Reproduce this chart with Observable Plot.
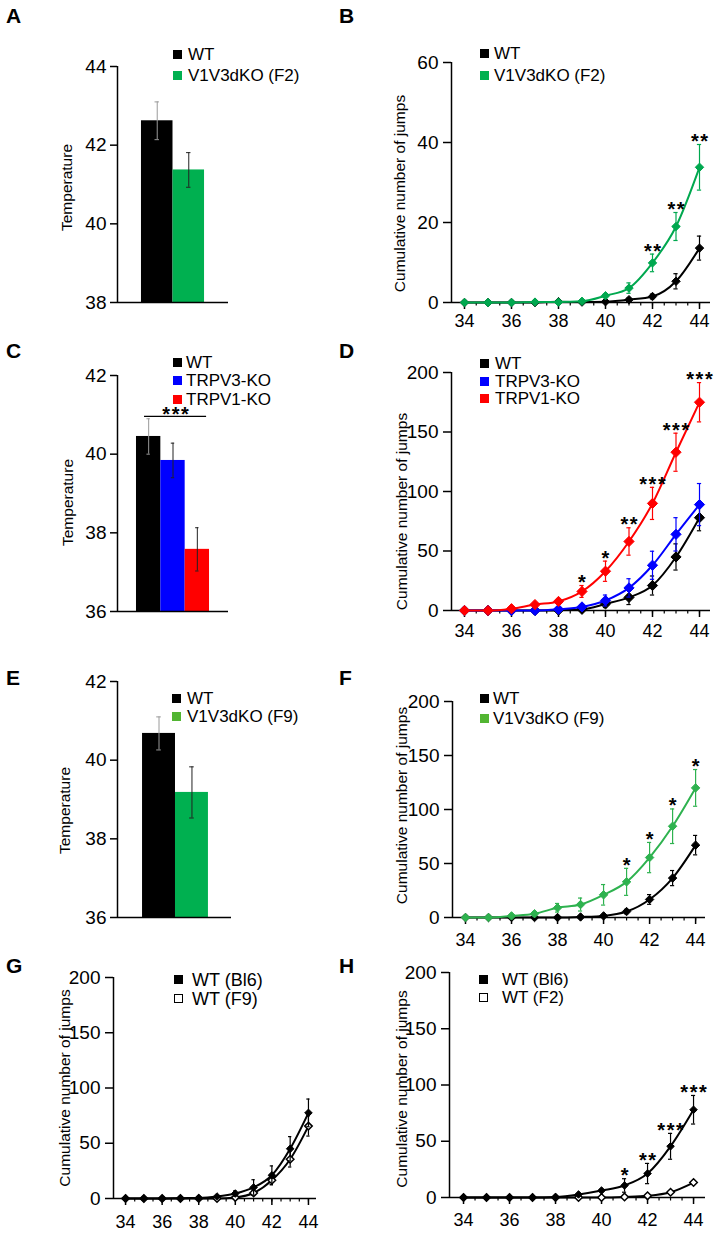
<!DOCTYPE html>
<html><head><meta charset="utf-8">
<script src="https://cdn.jsdelivr.net/npm/d3@7"></script>
<script src="https://cdn.jsdelivr.net/npm/@observablehq/plot@0.6"></script>
<style>
body{margin:0;background:#fff;}
#fig{position:relative;width:717px;height:1233px;font-family:"Liberation Sans",Arial,Helvetica,sans-serif;overflow:hidden;background:#fff;color:#000}
.letter{position:absolute;font-weight:bold;font-size:21px;line-height:21px}
.legend{position:absolute;line-height:1}
.legend .row{display:flex;align-items:center;white-space:nowrap}
.legend .sw{box-sizing:border-box;flex:none}
</style></head><body><div id="fig"></div>
<script>
// ---------- DATA ----------
const temps = [34,35,36,37,38,39,40,41,42,43,44];

// A
const aGroups = ["WT", "V1V3dKO (F2)"];
const aMeans = [42.62, 41.37];
const aErrs = [0.48, 0.44];
// B
const bWT = [0,0,0,0,0.2,0.1,0.2,0.7,1.5,5.3,13.6];
const bWTErr = [0,0,0,0,0,0,0,0.4,0.6,1.9,3.0];
const bKO = [0,0,0,0.1,0.1,0.3,1.7,3.6,9.9,19.0,33.8];
const bKOErr = [0,0,0,0,0,0,0.4,1.3,2.2,3.5,5.7];
const bStars = ["","","","","","","","","**","**","**"];
// C
const cGroups = ["WT", "TRPV3-KO", "TRPV1-KO"];
const cMeans = [40.45, 39.84, 37.58];
const cErrs = [0.45, 0.44, 0.55];
const cSig = [{from: 0, to: 2, level: 40.96, label: "***"}];
// D
const dWT = [0,0,0,0,0.3,1,5.5,11,21,45,78];
const dWTErr = [0,0,0,0,0,0,3,6,8,11,11];
const dV3 = [0,0,0,0,1,3,8.4,19,38,64,89];
const dV3Err = [0,0,0,0,0,1.5,4.6,7.7,11.8,14,17.7];
const dV1 = [0,0,1.5,5,7.6,16,33,58,90,133,175];
const dV1Err = [0,0,0,1,1.5,5,8.5,11.5,13.5,16,16.5];
const dStars = ["","","","","","*","*","**","***","***","***"];
// E
const eGroups = ["WT", "V1V3dKO (F9)"];
const eMeans = [40.68, 39.18];
const eErrs = [0.42, 0.65];
// F
const fWT = [0,0,0,0,0,0.5,1.5,5.5,16.7,36.5,67];
const fWTErr = [0,0,0,0,0,0,0,2,4.5,7,9];
const fKO = [0,0,1.5,3.5,9,12,21,33,55.5,84.5,120];
const fKOErr = [0,0,1,2,4,6,9.5,12.5,14,16,17];
const fStars = ["","","","","","","","*","*","*","*"];
// G
const gBl6 = [0,0,0,0.3,0.5,1.8,4.5,10,21,45,77.5];
const gBl6Err = [0,0,0,0,0,0,2.5,7,8.5,11,12.5];
const gF9 = [0,0,0,0,0,0,1,5,16.5,35.5,65.5];
const gF9Err = [0,0,0,0,0,0,0,2,4,7,9];
// H
const hBl6 = [0,0,0,0,0.5,2.7,6.2,10.7,21.3,45.5,78];
const hBl6Err = [0,0,0,0,0,0,1,6,9,11.5,12.7];
const hF2 = [0,0,0,0,0,0,0,0.5,1.5,4.7,13.3];
const hF2Err = [0,0,0,0,0,0,0,0,0.5,1,1.5];
const hStars = ["","","","","","","","*","**","***","***"];

const tempTicks = [38,40,42,44];
const yTicksC = [36,38,40,42];
const jumpTicksB = [0,20,40,60];
const jumpTicks = [0,50,100,150,200];
const xMajor = [34,36,38,40,42,44];
const xMinor = d3.range(34, 44.01, 0.5);
const labelTemp = "Temperature";
const labelJumps = "Cumulative number of jumps";

// ---------- STYLE ----------
const FONT = '"Liberation Sans", Arial, Helvetica, sans-serif';
const BLACK = "#000000", GREEN = "#00b050", GREENL = "#00a84f", GREENF = "#2eb24f", GREENLEG = "#52b532";
const BLUE = "#0000ff", RED = "#ff0000";
const fmt = d3.format("d");
const starText = s => s.split("").join("\u200a");
const fig = document.getElementById("fig");

function place(el, left, top) {
  el.style.position = "absolute";
  el.style.left = left + "px";
  el.style.top = top + "px";
  fig.appendChild(el);
}

function letter(ch, left, top) {
  const d = document.createElement("div");
  d.className = "letter"; d.textContent = ch;
  place(d, left, top);
}

function legend(items, o) {
  const d = document.createElement("div");
  d.className = "legend";
  d.style.fontSize = o.font + "px";
  for (const it of items) {
    const r = document.createElement("div");
    r.className = "row"; r.style.height = o.rowH + "px";
    const s = document.createElement("span");
    s.className = "sw";
    s.style.width = o.sw + "px"; s.style.height = o.sw + "px";
    s.style.marginRight = o.gap + "px";
    if (it.open) { s.style.border = "1.3px solid #000"; s.style.background = "#fff"; }
    else s.style.background = it.color;
    const t = document.createElement("span"); t.textContent = it.name;
    r.append(s, t); d.append(r);
  }
  place(d, o.left, o.top);
}

function yLabel(p) {
  return Plot.text([p.label], {text: d => d, frameAnchor: "left", textAnchor: "middle", lineAnchor: "middle",
    rotate: -90, dx: p.labelDx, dy: p.labelDy, fontSize: 15.5});
}

function barPanel(p) {
  const rows = p.groups.map((g, i) => ({g, i, v: p.means[i], e: p.errs[i], c: p.colors[i]}));
  const errC = d => d.c === BLACK ? "#9a9a9a" : "#222";
  const cap = 0.07;
  const marks = [
    Plot.rectY(rows, {x1: "i", x2: d => d.i + 1, y1: p.yDomain[0], y2: "v", fill: "c"}),
    Plot.ruleX(rows, {x: d => d.i + 0.5, y1: d => d.v - d.e, y2: d => d.v + d.e, stroke: errC, strokeWidth: 1}),
    Plot.ruleY(rows, {y: d => d.v + d.e, x1: d => d.i + 0.5 - cap, x2: d => d.i + 0.5 + cap, stroke: errC, strokeWidth: 1}),
    Plot.ruleY(rows, {y: d => d.v - d.e, x1: d => d.i + 0.5 - cap, x2: d => d.i + 0.5 + cap, stroke: errC, strokeWidth: 1}),
    Plot.ruleY([p.yDomain[0]], {strokeWidth: 1.5}),
    Plot.ruleX([p.xDomain[0]], {strokeWidth: 1.5}),
    Plot.axisY({ticks: p.yTicks, tickFormat: fmt, tickSize: 7, tickPadding: 4, label: null, strokeWidth: 1.5, fontSize: 19}),
    yLabel(p)
  ];
  if (p.sig) {
    marks.push(
      Plot.ruleY(p.sig, {y: "level", x1: d => d.from + 0.33, x2: d => d.to + 0.88, strokeWidth: 1.3}),
      Plot.text(p.sig, {x: d => (d.from + 0.33 + d.to + 0.88) / 2, y: "level", text: d => starText(d.label), dy: -2, fontSize: 20, fontWeight: "bold"})
    );
  }
  return Plot.plot({
    width: p.width, height: p.height,
    marginLeft: p.m[0], marginRight: p.m[1], marginTop: p.m[2], marginBottom: p.m[3],
    x: {domain: p.xDomain, axis: null},
    y: {domain: p.yDomain},
    color: {type: "identity"},
    style: {fontFamily: FONT, fontSize: "17px", color: "#000", background: "transparent", overflow: "visible"},
    marks
  });
}

function linePanel(p) {
  const cap = 0.09;
  const marks = [
    Plot.ruleY([p.yDomain[0]], {strokeWidth: 1.5}),
    Plot.ruleX([p.xDomain[0]], {strokeWidth: 1.5}),
    Plot.axisY({ticks: p.yTicks, tickFormat: fmt, tickSize: 8, tickPadding: 5, label: null, strokeWidth: 1.5, fontSize: 19}),
    Plot.axisX({ticks: xMajor, tickFormat: fmt, tickSize: 7, tickPadding: p.xPad, label: null, strokeWidth: 1.5, fontSize: 18}),
    Plot.axisX({ticks: xMinor, tickSize: 3.5, tickFormat: () => "", label: null, strokeWidth: 1.2}),
    yLabel(p)
  ];
  for (const s of p.series) {
    const d = temps.map((t, i) => ({t, v: s.values[i], e: s.errs[i]}));
    const de = d.filter(r => r.e > 0);
    marks.push(
      Plot.ruleX(de, {x: "t", y1: r => r.v - r.e, y2: r => r.v + r.e, stroke: s.color, strokeWidth: 1.2}),
      Plot.ruleY(de, {y: r => r.v + r.e, x1: r => r.t - cap, x2: r => r.t + cap, stroke: s.color, strokeWidth: 1.2}),
      Plot.ruleY(de, {y: r => r.v - r.e, x1: r => r.t - cap, x2: r => r.t + cap, stroke: s.color, strokeWidth: 1.2}),
      Plot.line(d, {x: "t", y: "v", stroke: s.color, strokeWidth: 2, curve: "monotone-x"}),
      Plot.dot(d, {x: "t", y: "v", symbol: "diamond2", r: p.r, fill: s.open ? "#fff" : s.color, stroke: s.color, strokeWidth: s.open ? 1.5 : 1})
    );
  }
  if (p.stars) {
    const s = p.series[p.starSeries];
    const sr = temps.map((t, i) => ({t, top: s.values[i] + s.errs[i], star: p.stars[i]})).filter(r => r.star);
    marks.push(Plot.text(sr, {x: "t", y: "top", text: r => starText(r.star), dy: -3, fontSize: 20, fontWeight: "bold"}));
  }
  return Plot.plot({
    width: p.width, height: p.height,
    marginLeft: p.m[0], marginRight: p.m[1], marginTop: p.m[2], marginBottom: p.m[3],
    x: {domain: p.xDomain},
    y: {domain: p.yDomain},
    style: {fontFamily: FONT, fontSize: "17px", color: "#000", background: "transparent", overflow: "visible"},
    marks
  });
}

// ---------- PANELS ----------
place(barPanel({groups: aGroups, means: aMeans, errs: aErrs, colors: [BLACK, GREEN],
  xDomain: [-0.76, 2.76], yDomain: [38, 44], yTicks: tempTicks, label: labelTemp, labelDx: -50, labelDy: 3,
  width: 245, height: 300, m: [117, 17, 36, 28]}), 0, 30);

place(linePanel({series: [
    {name: "WT", values: bWT, errs: bWTErr, color: BLACK},
    {name: "V1V3dKO (F2)", values: bKO, errs: bKOErr, color: GREENL}],
  stars: bStars, starSeries: 1, r: 3.8,
  xDomain: [33.447, 44.468], yDomain: [0, 60], yTicks: jumpTicksB, xPad: 5,
  label: labelJumps, labelDx: -51, labelDy: 11,
  width: 372, height: 300, m: [106, 7, 32, 28]}), 345, 30);

place(barPanel({groups: cGroups, means: cMeans, errs: cErrs, colors: [BLACK, BLUE, RED], sig: cSig,
  xDomain: [-0.78, 3.78], yDomain: [36, 42], yTicks: yTicksC, label: labelTemp, labelDx: -49, labelDy: 9,
  width: 245, height: 300, m: [117, 17, 35, 29]}), 0, 340);

place(linePanel({series: [
    {name: "WT", values: dWT, errs: dWTErr, color: BLACK},
    {name: "TRPV3-KO", values: dV3, errs: dV3Err, color: BLUE},
    {name: "TRPV1-KO", values: dV1, errs: dV1Err, color: RED}],
  stars: dStars, starSeries: 2, r: 4.6,
  xDomain: [33.447, 44.468], yDomain: [0, 200], yTicks: jumpTicks, xPad: 7,
  label: labelJumps, labelDx: -49, labelDy: 20,
  width: 372, height: 300, m: [106, 7, 32, 30]}), 345, 340);

place(barPanel({groups: eGroups, means: eMeans, errs: eErrs, colors: [BLACK, GREEN],
  xDomain: [-0.76, 2.7], yDomain: [36, 42], yTicks: yTicksC, label: labelTemp, labelDx: -52, labelDy: 11,
  width: 245, height: 300, m: [117, 14, 31, 33]}), 0, 650);

place(linePanel({series: [
    {name: "WT", values: fWT, errs: fWTErr, color: BLACK},
    {name: "V1V3dKO (F9)", values: fKO, errs: fKOErr, color: GREENF}],
  stars: fStars, starSeries: 1, r: 3.8,
  xDomain: [33.435, 44.43], yDomain: [0, 200], yTicks: jumpTicks, xPad: 9,
  label: labelJumps, labelDx: -50, labelDy: -4,
  width: 372, height: 300, m: [107, 12, 51, 33]}), 345, 650);

place(linePanel({series: [
    {name: "WT (F9)", values: gF9, errs: gF9Err, color: BLACK, open: true},
    {name: "WT (Bl6)", values: gBl6, errs: gBl6Err, color: BLACK}],
  r: 3.4,
  xDomain: [33.34, 44.44], yDomain: [0, 200], yTicks: jumpTicks, xPad: 10,
  label: labelJumps, labelDx: -48, labelDy: 0,
  width: 340, height: 283, m: [113, 24, 27, 35]}), 0, 950);

place(linePanel({series: [
    {name: "WT (F2)", values: hF2, errs: hF2Err, color: BLACK, open: true},
    {name: "WT (Bl6)", values: hBl6, errs: hBl6Err, color: BLACK}],
  stars: hStars, starSeries: 1, r: 3.4,
  xDomain: [33.39, 44.52], yDomain: [0, 200], yTicks: jumpTicks, xPad: 9,
  label: labelJumps, labelDx: -47, labelDy: 4,
  width: 372, height: 283, m: [104, 12, 22, 36]}), 345, 950);

// ---------- LEGENDS ----------
legend([{name: aGroups[0], color: BLACK}, {name: aGroups[1], color: GREEN}],
  {left: 173, top: 43.5, rowH: 21, sw: 9, gap: 6, font: 17});
legend([{name: "WT", color: BLACK}, {name: "V1V3dKO (F2)", color: GREEN}],
  {left: 480, top: 43, rowH: 21.5, sw: 9, gap: 5, font: 17});
legend(cGroups.map((g, i) => ({name: g, color: [BLACK, BLUE, RED][i]})),
  {left: 173, top: 353.5, rowH: 18.3, sw: 9, gap: 4, font: 17});
legend([{name: "WT", color: BLACK}, {name: "TRPV3-KO", color: BLUE}, {name: "TRPV1-KO", color: RED}],
  {left: 480, top: 354.5, rowH: 17.8, sw: 9, gap: 6, font: 17});
legend([{name: eGroups[0], color: BLACK}, {name: eGroups[1], color: GREENLEG}],
  {left: 172, top: 689.5, rowH: 18, sw: 9, gap: 6, font: 17});
legend([{name: "WT", color: BLACK}, {name: "V1V3dKO (F9)", color: GREENLEG}],
  {left: 480, top: 688.5, rowH: 20, sw: 9, gap: 4, font: 17});
legend([{name: "WT (Bl6)", color: BLACK}, {name: "WT (F9)", open: true}],
  {left: 174, top: 970, rowH: 19, sw: 9, gap: 9, font: 18});
legend([{name: "WT (Bl6)", color: BLACK}, {name: "WT (F2)", open: true}],
  {left: 479, top: 970, rowH: 18.5, sw: 9, gap: 14, font: 17});

// ---------- PANEL LETTERS ----------
letter("A", 6, 5); letter("B", 339, 5);
letter("C", 6, 340); letter("D", 339, 340);
letter("E", 6, 667); letter("F", 339, 667);
letter("G", 6, 955); letter("H", 339, 955);
</script></body></html>
